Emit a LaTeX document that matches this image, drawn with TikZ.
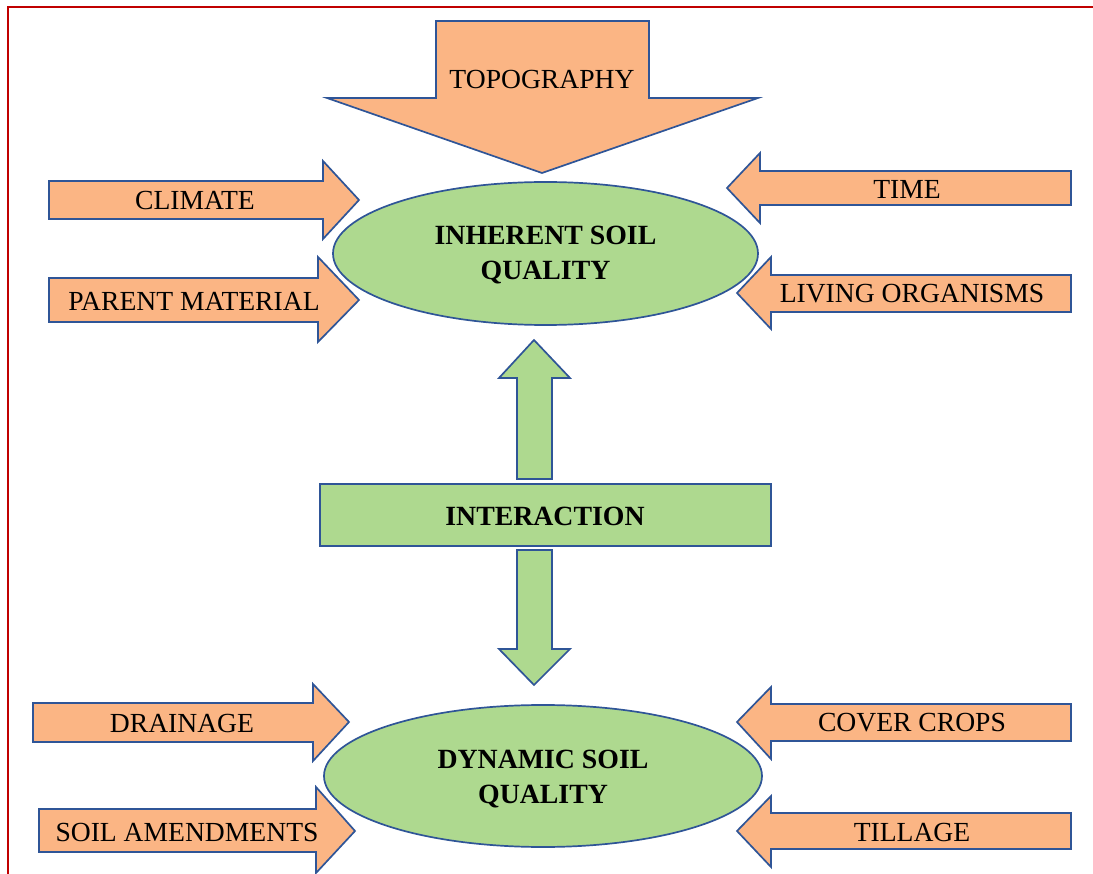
\documentclass[tikz,border=0pt]{standalone}
\usepackage{fontspec}
\setmainfont{Liberation Serif}
\usetikzlibrary{shapes.geometric}
\definecolor{orangefill}{HTML}{FBB584}
\definecolor{greenfill}{HTML}{AED98F}
\definecolor{outline}{HTML}{2F5597}
\definecolor{framered}{HTML}{C00000}
\tikzset{
  blockarrow/.style={fill=orangefill, draw=outline, line width=1.7pt, line join=miter},
  greenarrow/.style={fill=greenfill, draw=outline, line width=1.7pt, line join=miter},
  lbl/.style={font=\fontsize{27.6}{33}\selectfont, inner sep=0pt},
  boldlbl/.style={font=\fontsize{27.8}{35}\selectfont\bfseries, inner sep=0pt, align=center},
}
\begin{document}
\begin{tikzpicture}[x=1pt,y=-1pt]
\useasboundingbox (0,0) rectangle (1093,874);
% frame
\draw[framered, line width=1.5pt] (8,874) -- (8,7) -- (1093,7);

% TOPOGRAPHY (down)
\draw[blockarrow] (436,21) -- (649,21) -- (649,98) -- (758,98) -- (542,173) -- (327,98) -- (436,98) -- cycle;
\node[lbl] (topo) at (542,80) {TOPOGRAPHY};

% CLIMATE (right)
\draw[blockarrow] (49,181) -- (323,181) -- (323,161) -- (359,200) -- (323,239) -- (323,219) -- (49,219) -- cycle;
\node[lbl] (climate) at (195,201) {CLIMATE};

% PARENT MATERIAL (right)
\draw[blockarrow] (49,278) -- (318,278) -- (318,257) -- (359,300) -- (318,342) -- (318,322) -- (49,322) -- cycle;
\node[lbl] (parent) at (194,301) {PARENT MATERIAL};

% TIME (left)
\draw[blockarrow] (1071,171) -- (760,171) -- (760,153) -- (727,188) -- (760,223) -- (760,205) -- (1071,205) -- cycle;
\node[lbl] (time) at (907,189) {TIME};

% LIVING ORGANISMS (left)
\draw[blockarrow] (1071,275) -- (771,275) -- (771,257) -- (737,293) -- (771,329) -- (771,312) -- (1071,312) -- cycle;
\node[lbl] (living) at (912,294) {LIVING ORGANISMS};

% Inherent soil quality
\node[ellipse, fill=greenfill, draw=outline, line width=1.7pt, minimum width=425pt, minimum height=143pt, inner sep=0pt] (inherent) at (545.5,253.5) {};
\node[boldlbl] (inhtext) at (545.5,255) {INHERENT SOIL\\QUALITY};

% up arrow
\draw[greenarrow] (517,479) -- (517,378) -- (499,378) -- (534,340) -- (570,378) -- (552,378) -- (552,479) -- cycle;

% Interaction
\node[rectangle, fill=greenfill, draw=outline, line width=1.7pt, minimum width=451pt, minimum height=62pt, inner sep=0pt] (interaction) at (545.5,515) {};
\node[boldlbl] (intertext) at (545,516) {INTERACTION};

% down arrow
\draw[greenarrow] (517,550) -- (552,550) -- (552,649) -- (570,649) -- (534,685) -- (499,649) -- (517,649) -- cycle;

% DRAINAGE (right)
\draw[blockarrow] (33,703) -- (313,703) -- (313,684) -- (349,722) -- (313,761) -- (313,742) -- (33,742) -- cycle;
\node[lbl] (drainage) at (182,723) {DRAINAGE};

% SOIL AMENDMENTS (right)
\draw[blockarrow] (39,809) -- (316,809) -- (316,787) -- (355,831) -- (316,873) -- (316,852) -- (39,852) -- cycle;
\node[lbl] (amend) at (187,832) {SOIL AMENDMENTS};

% COVER CROPS (left)
\draw[blockarrow] (1071,704) -- (771,704) -- (771,687) -- (737,722) -- (771,759) -- (771,741) -- (1071,741) -- cycle;
\node[lbl] (cover) at (912,723) {COVER CROPS};

% TILLAGE (left)
\draw[blockarrow] (1071,813) -- (771,813) -- (771,796) -- (737,831) -- (771,867) -- (771,849) -- (1071,849) -- cycle;
\node[lbl] (tillage) at (912,832) {TILLAGE};

% Dynamic soil quality
\node[ellipse, fill=greenfill, draw=outline, line width=1.7pt, minimum width=438pt, minimum height=142pt, inner sep=0pt] (dynamic) at (543,776) {};
\node[boldlbl] (dyntext) at (543,779) {DYNAMIC SOIL\\QUALITY};
\end{tikzpicture}
\end{document}
